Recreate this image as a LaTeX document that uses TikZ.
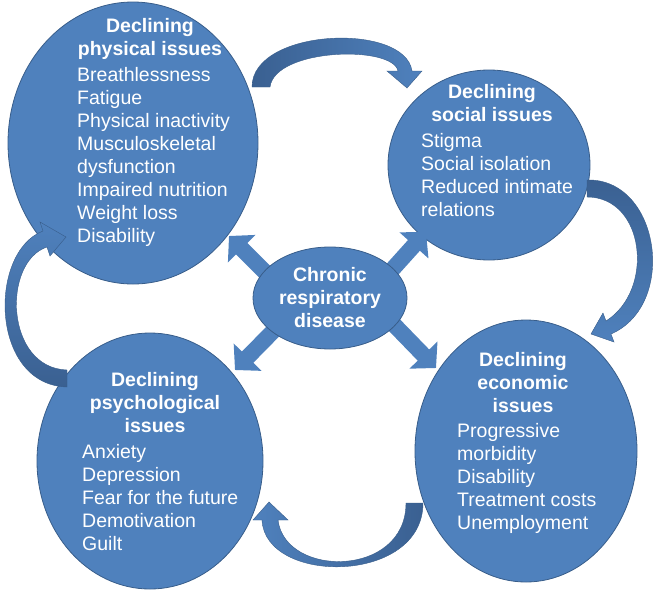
\documentclass[tikz,border=0pt]{standalone}
\usepackage{fontspec}
\setmainfont{Liberation Sans}
\usetikzlibrary{shapes.geometric,arrows.meta}
\definecolor{bubblefill}{RGB}{79,129,189}
\definecolor{bubbleline}{RGB}{56,93,138}
\definecolor{arrowdark}{RGB}{58,96,145}
\tikzset{
  bubble/.style={ellipse,fill=bubblefill,draw=bubbleline,line width=0.8pt,inner sep=0pt},
  heading/.style={anchor=north,align=center,inner sep=0pt,text=white,font=\bfseries\fontsize{19.5}{23}\selectfont},
  itemlist/.style={anchor=north west,align=left,inner sep=0pt,text=white,font=\fontsize{19.5}{23}\selectfont},
  spoke/.style={draw=bubblefill,line width=16pt,-{Triangle[width=38pt,length=18pt]}},
  curvearrow/.style={draw=bubbleline,line width=0.4pt}
}
\begin{document}
\begin{tikzpicture}[x=1pt,y=-1pt]
        \useasboundingbox (0,0) rectangle (654,595);

        \begin{scope}[every node/.style={bubble}]
          \node[minimum width=250pt,minimum height=282pt] (phys) at (133,143) {};
          \node[minimum width=202pt,minimum height=190pt] (soc)  at (489,165) {};
          \node[minimum width=226pt,minimum height=256pt] (psy)  at (150,461) {};
          \node[minimum width=222pt,minimum height=262pt] (eco)  at (526,451) {};
        \end{scope}

        \shadedraw[curvearrow,left color=arrowdark,right color=bubblefill]
          (252,87) .. controls (252,28) and (405,22) .. (412,71) -- (422,71) -- (407,88)
          -- (387,71) -- (398,71) .. controls (393,45) and (275,48) .. (270,87) -- cycle;
        \shadedraw[curvearrow,top color=arrowdark,bottom color=bubblefill]
          (587,180) .. controls (660,178) and (678,305) .. (611,334) -- (614,342) -- (591,334)
          -- (603,313) -- (606,321) .. controls (655,290) and (645,197) .. (587,197) -- cycle;
        \shadedraw[curvearrow,right color=arrowdark,left color=bubblefill]
          (423,503) .. controls (423,585) and (265,585) .. (262,520) -- (253,520) -- (269,502)
          -- (288,520) -- (278,520) .. controls (285,578) and (406,578) .. (406,503) -- cycle;
        \shadedraw[curvearrow,bottom color=arrowdark,top color=bubblefill]
          (67,387) .. controls (-10,385) and (-12,252) .. (43,231) -- (40,222) -- (66,237)
          -- (50,256) -- (47,247) .. controls (2,262) and (5,368) .. (67,370) -- cycle;

        \coordinate (sTL) at (290,297);
        \coordinate (tTL) at (229,236);
        \coordinate (sTR) at (372,292);
        \coordinate (tTR) at (426,232);
        \coordinate (sBL) at (292,312);
        \coordinate (tBL) at (235,370);
        \coordinate (sBR) at (372,302);
        \coordinate (tBR) at (436,368);
        \draw[spoke] (sTL) -- (tTL);
        \draw[spoke] (sTR) -- (tTR);
        \draw[spoke] (sBL) -- (tBL);
        \draw[spoke] (sBR) -- (tBR);

        \node[bubble,minimum width=154pt,minimum height=102pt,align=center,text=white,
          font=\bfseries\fontsize{19.5}{23}\selectfont] (crd) at (330,298)
          {Chronic\\respiratory\\disease};

        \node[heading]  (physT) at (150,18)  {Declining\\physical issues};
        \node[itemlist] (physL) at (77,67)   {Breathlessness\\Fatigue\\Physical inactivity\\Musculoskeletal\\dysfunction\\Impaired nutrition\\Weight loss\\Disability};
        \node[heading]  (socT)  at (492,84)  {Declining\\social issues};
        \node[itemlist] (socL)  at (421,133) {Stigma\\Social isolation\\Reduced intimate\\relations};
        \node[heading]  (psyT)  at (155,372) {Declining\\psychological\\issues};
        \node[itemlist] (psyL)  at (82,444)  {Anxiety\\Depression\\Fear for the future\\Demotivation\\Guilt};
        \node[heading]  (ecoT)  at (523,352) {Declining\\economic\\issues};
        \node[itemlist] (ecoL)  at (457,423) {Progressive\\morbidity\\Disability\\Treatment costs\\Unemployment};

      \end{tikzpicture}
\end{document}
